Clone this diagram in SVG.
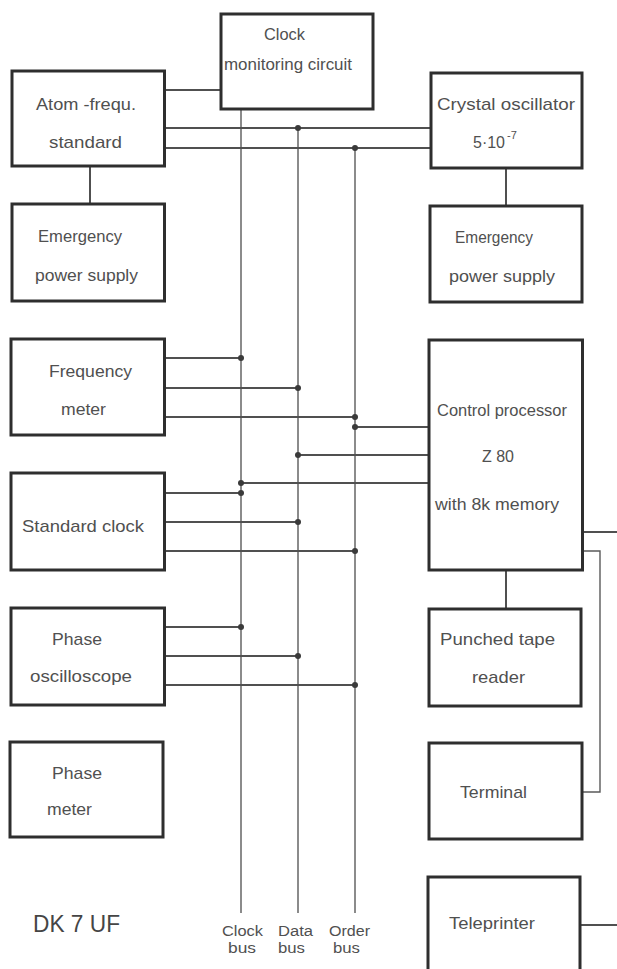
<svg xmlns="http://www.w3.org/2000/svg" width="617" height="969" viewBox="0 0 617 969">
  <style>
    .box { fill: #ffffff; stroke: #2e2e2e; stroke-width: 3; }
    .wire { fill: none; stroke: #505050; stroke-width: 2; }
    .bus { fill: none; stroke: #5a5a5a; stroke-width: 1.4; }
    .dot { fill: #3a3a3a; }
    text { font-family: "Liberation Sans", Arial, sans-serif; font-size: 17px; fill: #505050; }
    .big { font-size: 23px; fill: #454545; }
    .sup { font-size: 11px; }
    .lbl { font-size: 14px; }
  </style>
  <rect width="617" height="969" fill="#ffffff"/>

  <!-- connectors and buses -->
  <g id="connectors">
    <!-- vertical buses -->
    <line class="bus" x1="241" y1="109" x2="241" y2="913"/>
    <line class="bus" x1="298" y1="128" x2="298" y2="913"/>
    <line class="bus" x1="355" y1="148" x2="355" y2="913"/>

    <!-- top section -->
    <line class="wire" x1="165" y1="90" x2="221" y2="90"/>
    <line class="wire" x1="165" y1="128" x2="431" y2="128"/>
    <line class="wire" x1="165" y1="148" x2="431" y2="148"/>
    <line class="wire" x1="90" y1="166" x2="90" y2="204"/>
    <line class="wire" x1="506" y1="168" x2="506" y2="206"/>

    <!-- frequency meter -->
    <line class="wire" x1="165" y1="358" x2="241" y2="358"/>
    <line class="wire" x1="165" y1="388" x2="298" y2="388"/>
    <line class="wire" x1="165" y1="417" x2="355" y2="417"/>

    <!-- control processor taps -->
    <line class="wire" x1="355" y1="427" x2="429" y2="427"/>
    <line class="wire" x1="298" y1="455" x2="429" y2="455"/>
    <line class="wire" x1="241" y1="483" x2="429" y2="483"/>

    <!-- standard clock -->
    <line class="wire" x1="165" y1="493" x2="241" y2="493"/>
    <line class="wire" x1="165" y1="522" x2="298" y2="522"/>
    <line class="wire" x1="165" y1="551" x2="355" y2="551"/>

    <!-- phase oscilloscope -->
    <line class="wire" x1="165" y1="627" x2="241" y2="627"/>
    <line class="wire" x1="165" y1="656" x2="298" y2="656"/>
    <line class="wire" x1="165" y1="685" x2="355" y2="685"/>

    <!-- peripherals -->
    <line class="wire" x1="506" y1="570" x2="506" y2="609"/>
    <line class="wire" x1="582" y1="532" x2="617" y2="532"/>
    <polyline class="bus" points="582,551 600,551 600,792 582,792"/>
    <line class="wire" x1="580" y1="925" x2="617" y2="925"/>

    <!-- junction dots -->
    <circle class="dot" cx="298" cy="128" r="3"/>
    <circle class="dot" cx="355" cy="148" r="3"/>
    <circle class="dot" cx="241" cy="358" r="3"/>
    <circle class="dot" cx="298" cy="388" r="3"/>
    <circle class="dot" cx="355" cy="417" r="3"/>
    <circle class="dot" cx="355" cy="427" r="3"/>
    <circle class="dot" cx="298" cy="455" r="3"/>
    <circle class="dot" cx="241" cy="483" r="3"/>
    <circle class="dot" cx="241" cy="493" r="3"/>
    <circle class="dot" cx="298" cy="522" r="3"/>
    <circle class="dot" cx="355" cy="551" r="3"/>
    <circle class="dot" cx="241" cy="627" r="3"/>
    <circle class="dot" cx="298" cy="656" r="3"/>
    <circle class="dot" cx="355" cy="685" r="3"/>
  </g>

  <g id="clock-monitor">
    <rect class="box" x="221" y="14" width="152" height="95"/>
    <text x="264" y="40" textLength="41" lengthAdjust="spacingAndGlyphs">Clock</text>
    <text x="224" y="70" textLength="128" lengthAdjust="spacingAndGlyphs">monitoring circuit</text>
  </g>

  <g id="atom-standard">
    <rect class="box" x="12" y="71" width="152.5" height="95"/>
    <text x="36" y="110" textLength="100" lengthAdjust="spacingAndGlyphs">Atom -frequ.</text>
    <text x="49" y="148" textLength="73" lengthAdjust="spacingAndGlyphs">standard</text>
  </g>

  <g id="crystal-oscillator">
    <rect class="box" x="431" y="73" width="151" height="95"/>
    <text x="437" y="110" textLength="138" lengthAdjust="spacingAndGlyphs">Crystal oscillator</text>
    <text x="473" y="148" textLength="32" lengthAdjust="spacingAndGlyphs">5·10</text>
    <text class="sup" x="507" y="139">-7</text>
  </g>

  <g id="emergency-left">
    <rect class="box" x="12" y="204" width="152.5" height="97"/>
    <text x="38" y="242" textLength="84" lengthAdjust="spacingAndGlyphs">Emergency</text>
    <text x="35" y="281" textLength="103" lengthAdjust="spacingAndGlyphs">power supply</text>
  </g>

  <g id="emergency-right">
    <rect class="box" x="430" y="206" width="152" height="96"/>
    <text x="455" y="243" textLength="78" lengthAdjust="spacingAndGlyphs">Emergency</text>
    <text x="449" y="282" textLength="106" lengthAdjust="spacingAndGlyphs">power supply</text>
  </g>

  <g id="frequency-meter">
    <rect class="box" x="11" y="339" width="153.5" height="96"/>
    <text x="49" y="377" textLength="83" lengthAdjust="spacingAndGlyphs">Frequency</text>
    <text x="61" y="415" textLength="45" lengthAdjust="spacingAndGlyphs">meter</text>
  </g>

  <g id="standard-clock">
    <rect class="box" x="11" y="473" width="153.5" height="97"/>
    <text x="22" y="532" textLength="122" lengthAdjust="spacingAndGlyphs">Standard clock</text>
  </g>

  <g id="control-processor">
    <rect class="box" x="429" y="340" width="153.5" height="230"/>
    <text x="437" y="416" textLength="130" lengthAdjust="spacingAndGlyphs">Control processor</text>
    <text x="482" y="462" textLength="32" lengthAdjust="spacingAndGlyphs">Z 80</text>
    <text x="435" y="510" textLength="124" lengthAdjust="spacingAndGlyphs">with 8k memory</text>
  </g>

  <g id="phase-oscilloscope">
    <rect class="box" x="11" y="608" width="153.5" height="97"/>
    <text x="52" y="645" textLength="50" lengthAdjust="spacingAndGlyphs">Phase</text>
    <text x="30" y="682" textLength="102" lengthAdjust="spacingAndGlyphs">oscilloscope</text>
  </g>

  <g id="punched-tape-reader">
    <rect class="box" x="429" y="609" width="152" height="97"/>
    <text x="440" y="645" textLength="115" lengthAdjust="spacingAndGlyphs">Punched tape</text>
    <text x="472" y="683" textLength="53" lengthAdjust="spacingAndGlyphs">reader</text>
  </g>

  <g id="phase-meter">
    <rect class="box" x="10" y="742" width="153" height="95"/>
    <text x="52" y="779" textLength="50" lengthAdjust="spacingAndGlyphs">Phase</text>
    <text x="47" y="815" textLength="45" lengthAdjust="spacingAndGlyphs">meter</text>
  </g>

  <g id="terminal">
    <rect class="box" x="429" y="743" width="153" height="96"/>
    <text x="460" y="798" textLength="67" lengthAdjust="spacingAndGlyphs">Terminal</text>
  </g>

  <g id="teleprinter">
    <rect class="box" x="428" y="877" width="152" height="100"/>
    <text x="449" y="929" textLength="86" lengthAdjust="spacingAndGlyphs">Teleprinter</text>
  </g>

  <g id="bus-labels">
    <text class="lbl" x="222" y="936" textLength="41" lengthAdjust="spacingAndGlyphs">Clock</text>
    <text class="lbl" x="228" y="953" textLength="28" lengthAdjust="spacingAndGlyphs">bus</text>
    <text class="lbl" x="278" y="936" textLength="35" lengthAdjust="spacingAndGlyphs">Data</text>
    <text class="lbl" x="278" y="953" textLength="27" lengthAdjust="spacingAndGlyphs">bus</text>
    <text class="lbl" x="329" y="936" textLength="41" lengthAdjust="spacingAndGlyphs">Order</text>
    <text class="lbl" x="333" y="953" textLength="27" lengthAdjust="spacingAndGlyphs">bus</text>
  </g>

  <g id="figure-code">
    <text class="big" x="33" y="932" textLength="87" lengthAdjust="spacingAndGlyphs">DK 7 UF</text>
  </g>
</svg>
